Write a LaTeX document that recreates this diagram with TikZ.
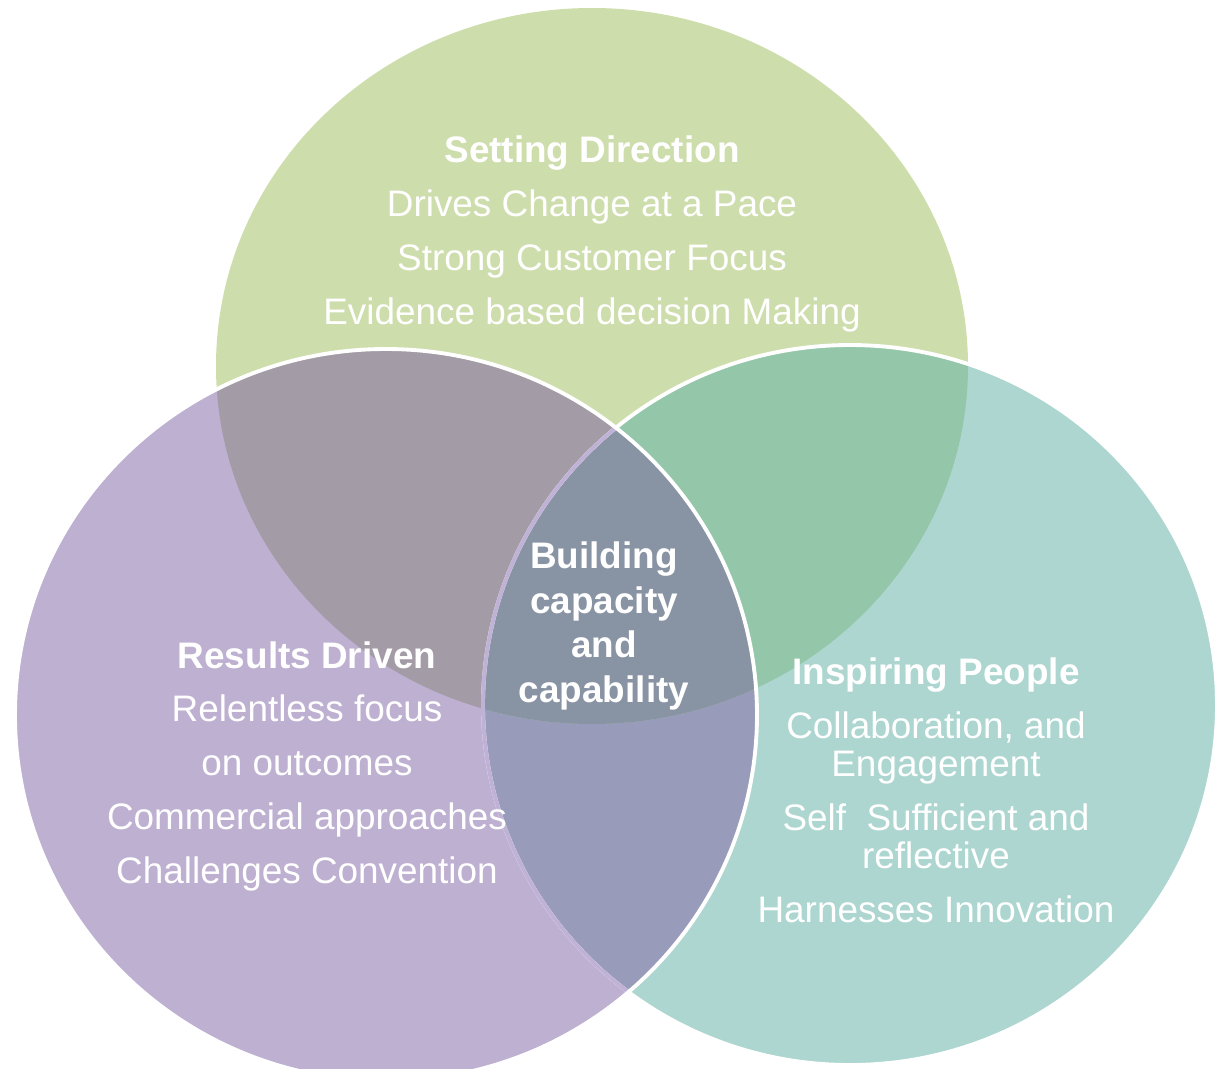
\documentclass[tikz,border=0pt]{standalone}
\usepackage{fontspec}
\setmainfont{Liberation Sans}
\usepackage{tikz}
\usetikzlibrary{positioning}

\definecolor{dirgreen}{RGB}{206,221,172}
\definecolor{respurple}{RGB}{190,176,209}
\definecolor{pplteal}{RGB}{173,214,208}
\definecolor{dirres}{RGB}{163,155,165}
\definecolor{dirppl}{RGB}{148,198,170}
\definecolor{resppl}{RGB}{152,155,185}
\definecolor{coremix}{RGB}{136,147,163}
\definecolor{rimpurple}{RGB}{192,178,214}

% the three circles of the model
\def\dircirc{(dir) ellipse [x radius=376, y radius=358]}
\def\rescirc{(res) ellipse [x radius=371, y radius=366]}
\def\pplcirc{(ppl) ellipse [x radius=367, y radius=360]}

\begin{document}
\begin{tikzpicture}[
  x=0.02cm, y=-0.02cm,
  rim/.style = { draw=white, line width=2.2pt },
  lbl/.style = {
    text=white, align=center, inner sep=0pt,
    font=\fontsize{21}{30.6}\selectfont
  },
  core/.style = {
    text=white, align=center, inner sep=0pt,
    font=\fontsize{21}{25.5}\selectfont\bfseries
  }
]
\useasboundingbox (0,0) rectangle (1218,1069);

\coordinate (dir) at (592,366);
\coordinate (res) at (386,715);
\coordinate (ppl) at (850,705);

\fill[dirgreen]  \dircirc;
\fill[pplteal]   \pplcirc;
\fill[respurple] \rescirc;

% overlaps
\begin{scope}
  \clip \rescirc;
  \fill[resppl] \pplcirc;
\end{scope}
\begin{scope}
  \clip \dircirc;
  \fill[dirres] \rescirc;
  \fill[dirppl] \pplcirc;
  \clip \rescirc;
  \fill[coremix] \pplcirc;
\end{scope}

% outlines
\draw[rim] \pplcirc;
\begin{scope}
  \clip \rescirc;
  \draw[rim, draw=rimpurple] \pplcirc;
\end{scope}
\draw[rim] \rescirc;

\node[lbl] (dirtxt) at (592,234)
  {\textbf{Setting Direction}\\Drives Change at a Pace\\Strong Customer Focus\\Evidence based decision Making};
\node[lbl] (restxt) at (307,766)
  {\textbf{Results Driven}\\Relentless focus\\on outcomes\\Commercial approaches\\Challenges Convention};
\node[lbl] (ppltxt) at (936,790)
  {\textbf{Inspiring People}\\Collaboration, and\\[-8.8pt]Engagement\\Self\ \ Sufficient and\\[-8.8pt]reflective\\Harnesses Innovation};
\node[core] (coretxt) at (604,626)
  {Building\\capacity\\and\\capability};

\end{tikzpicture}
\end{document}
